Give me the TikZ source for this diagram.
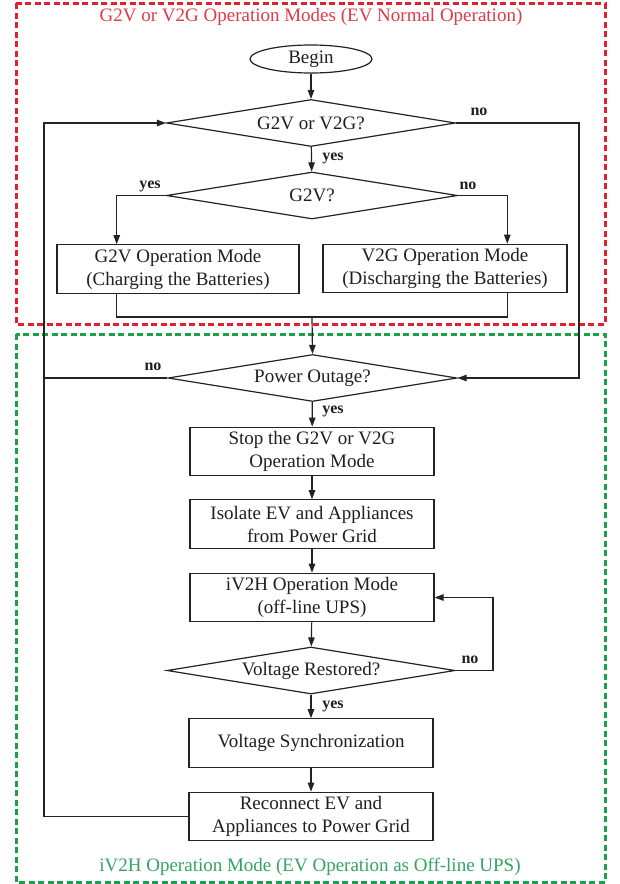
\documentclass[tikz,border=0pt]{standalone}
\usepackage{fontspec}
\setmainfont{Liberation Serif}
\usetikzlibrary{arrows.meta,shapes.geometric,calc}
\definecolor{redd}{RGB}{226,32,46}
\definecolor{greend}{RGB}{25,160,75}
\definecolor{redt}{RGB}{222,58,72}
\definecolor{greent}{RGB}{50,165,100}
\definecolor{ln}{RGB}{35,35,35}
\begin{document}
\begin{tikzpicture}[x=1pt,y=-1pt,
  every node/.style={font=\fontsize{19}{23}\selectfont, text=black!88},
  box/.style={draw=ln, line width=1.2pt, rectangle, minimum width=244pt, minimum height=48.5pt, inner sep=0pt, align=center},
  dec/.style={draw=ln, line width=1.2pt, diamond, aspect=6, minimum width=289pt, minimum height=47pt, inner sep=0pt},
  term/.style={draw=ln, line width=1.2pt, ellipse, minimum width=122pt, minimum height=28pt, inner sep=0pt},
  lbl/.style={font=\fontsize{16}{18}\bfseries\selectfont, inner sep=0pt},
  conn/.style={draw=ln, line width=1.2pt},
  arr/.style={conn, -{Triangle[length=9pt,width=6.5pt]}},
  zone/.style={line width=3pt, dash pattern=on 6pt off 3.5pt}
]
\useasboundingbox (0,0) rectangle (620,884);
\fill[white] (0,0) rectangle (620,884);

% zones
\draw[zone, draw=redd] (16,3) rectangle (605,324);
\draw[zone, draw=greend] (16,334) rectangle (605,882);
\node[text=redt] (t1) at (311,17) {G2V or V2G Operation Modes (EV Normal Operation)};
\node[text=greent] (t2) at (310,867) {iV2H Operation Mode (EV Operation as Off-line UPS)};

% nodes
\node[term] (begin) at (311,59) {Begin};
\node[dec] (d1) at (311,123) {G2V or V2G?};
\node[dec, minimum width=291pt] (d2) at (312,195.5) {G2V?};
\node[box, minimum width=242pt] (g2v) at (178,269) {G2V Operation Mode\\(Charging the Batteries)};
\node[box] (v2g) at (445,268.5) {V2G Operation Mode\\(Discharging the Batteries)};
\node[dec] (po) at (312.5,378) {Power Outage?};
\node[box] (stop) at (312,451.5) {Stop the G2V or V2G\\Operation Mode};
\node[box] (iso) at (312,524) {Isolate EV and Appliances\\from Power Grid};
\node[box] (iv2h) at (312,597.5) {iV2H Operation Mode\\(off-line UPS)};
\node[dec, minimum width=288pt] (vr) at (311,670.5) {Voltage Restored?};
\node[box] (vs) at (311,743) {Voltage Synchronization};
\node[box] (rec) at (311,816.5) {Reconnect EV and\\Appliances to Power Grid};

% helper coordinates
\coordinate (gt) at ($(g2v.north west)!0.248!(g2v.north east)$);
\coordinate (gb) at ($(g2v.south west)!0.248!(g2v.south east)$);
\coordinate (vt) at ($(v2g.north west)!0.754!(v2g.north east)$);
\coordinate (vb) at ($(v2g.south west)!0.754!(v2g.south east)$);
\coordinate (m) at (312,317);
\coordinate (rx) at (579,250);
\coordinate (lx) at (44,300);
\coordinate (rx2) at (493,630);

% connectors
\draw[arr] (begin) -- (d1);
\draw[arr] (d1) -- (d2);
\draw[arr] (d2.west) -| (gt);
\draw[arr] (d2.east) -| (vt);
\draw[conn] (gb) |- (m);
\draw[conn] (vb) |- (m);
\draw[arr] (m) -- (po.north);
\draw[arr] (d1.east) -| (rx) |- (po.east);
\draw[arr] (po.west) -| (lx) |- (d1.west);
\draw[conn] (rec.west) -| (lx);
\draw[arr] (po) -- (stop);
\draw[arr] (stop) -- (iso);
\draw[arr] (iso) -- (iv2h);
\draw[arr] (iv2h) -- (vr);
\draw[arr] (vr.east) -| (rx2) |- (iv2h.east);
\draw[arr] (vr) -- (vs);
\draw[arr] (vs) -- (rec);

% branch labels
\node[lbl] (y1) at (333,158) {yes};
\node[lbl] (n1) at (479,112) {no};
\node[lbl] (y2) at (150,186) {yes};
\node[lbl] (n2) at (468,186) {no};
\node[lbl] (n3) at (153,367) {no};
\node[lbl] (y3) at (333,411) {yes};
\node[lbl] (n4) at (470,660) {no};
\node[lbl] (y4) at (333,706) {yes};
\end{tikzpicture}
\end{document}
